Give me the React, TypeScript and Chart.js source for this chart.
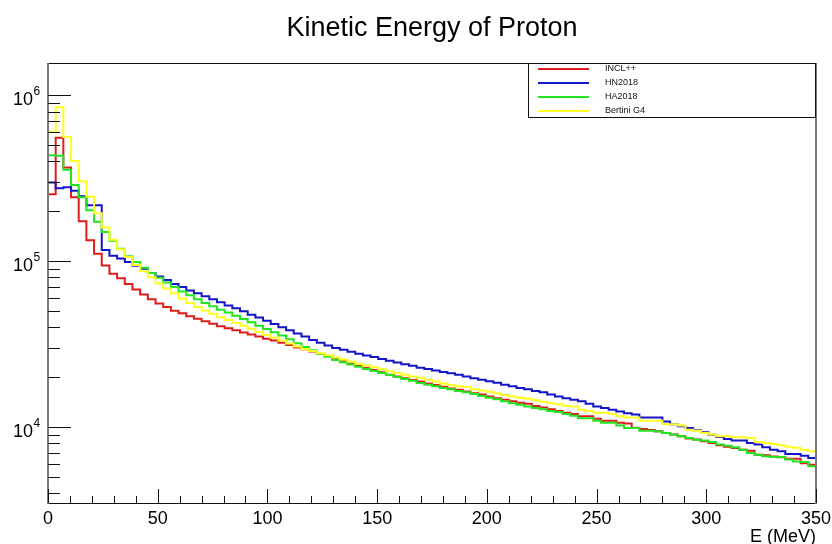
import React, { useEffect, useRef } from "react";
import { Chart, registerables } from "chart.js";

Chart.register(...registerables);

// ---------- chart text ----------
const TITLE = "Kinetic Energy of Proton";
const X_TITLE = "E (MeV)";

// ---------- axes ----------
const X_MIN = 0;
const X_MAX = 350;
const BIN_WIDTH = 3.5;
const Y_MIN = 3480;
const Y_MAX = 1570000;
const X_TICK_LABELS = [0, 50, 100, 150, 200, 250, 300, 350];
const X_MINOR_STEP = 10;
const Y_DECADE_EXPONENTS = [4, 5, 6];

// ---------- series ----------
const SERIES_NAMES = ["INCL++", "HN2018", "HA2018", "Bertini G4"];
const SERIES_COLORS = ["#dd1c1c", "#1414c8", "#22e622", "#ffff22"];

// counts per 3.5 MeV bin, 0..350 MeV
const INCL_VALUES = [
  254000, 555000, 368000, 243000, 174000, 134000, 111000, 94400, 84000, 79000,
  73000, 67500, 63000, 59000, 55600, 53000, 50200, 48500, 46500, 45000,
  43500, 42000, 40600, 39400, 38300, 37200, 36200, 35100, 34100, 33200,
  32200, 31200, 30200, 29400, 28500, 27600, 26800, 25700, 24900, 24100,
  23400, 22700, 22100, 21400, 20700, 20200, 19700, 19200, 18800, 18300,
  17900, 17500, 17100, 16800, 16400, 16000, 15700, 15300, 14900, 14600,
  14300, 14000, 13800, 13400, 13100, 12800, 12500, 12200, 12000, 11600,
  11600, 11200, 10900, 10900, 10600, 10500, 9900, 9720, 9600, 9420,
  9210, 9000, 8790, 8510, 8400, 8200, 8010, 7770, 7600, 7480,
  7300, 7200, 6800, 6750, 6650, 6560, 6430, 6430, 6050, 5910,
];

const HN2018_VALUES = [
  299000, 276000, 279000, 266000, 247000, 218000, 218000, 117000, 108000, 104000,
  99000, 94000, 90000, 85000, 81000, 77000, 73000, 70000, 66500, 64000,
  61500, 59000, 56500, 54000, 52000, 50000, 47500, 45800, 43800, 41800,
  40000, 38300, 36700, 35200, 33500, 32200, 31000, 30000, 29200, 28400,
  27700, 27000, 26400, 25700, 25100, 24500, 23900, 23400, 22800, 22400,
  21900, 21500, 21100, 20700, 20200, 19700, 19300, 18900, 18500, 18000,
  17600, 17200, 16900, 16500, 16200, 15700, 15300, 14900, 14600, 14300,
  13800, 13300, 13000, 12700, 12400, 12100, 11900, 11400, 11400, 11400,
  10800, 10400, 10100, 9860, 9550, 9290, 8990, 8710, 8470, 8280,
  8280, 8010, 7830, 7550, 7300, 7140, 6880, 6880, 6720, 6510,
];

const HA2018_VALUES = [
  436000, 433000, 356000, 288000, 243000, 203000, 173000, 150000, 133000, 119000,
  107000, 98900, 91500, 85000, 79500, 74500, 70000, 65600, 62400, 59000,
  56000, 53500, 51000, 49000, 46900, 44800, 42800, 40800, 39000, 37300,
  35600, 33800, 32000, 30400, 29000, 27600, 26500, 25400, 24600, 23800,
  23100, 22400, 21800, 21200, 20600, 20000, 19500, 19000, 18400, 18000,
  17600, 17200, 16900, 16500, 16200, 15800, 15400, 15000, 14700, 14300,
  13900, 13600, 13300, 13000, 12800, 12500, 12300, 12000, 11700, 11300,
  11300, 10900, 10600, 10600, 10200, 9860, 9860, 9500, 9500, 9400,
  9210, 8990, 8800, 8590, 8390, 8300, 8130, 7830, 7700, 7550,
  7300, 6980, 6800, 6660, 6600, 6600, 6360, 6200, 6140, 5800,
];

const BERTINI_VALUES = [
  605000, 850000, 562000, 403000, 304000, 245000, 195000, 160000, 135000, 118000,
  106000, 95000, 87000, 80000, 73500, 68500, 64000, 59500, 56000, 53000,
  50500, 48200, 46000, 44200, 42400, 40800, 39100, 37500, 36000, 34600,
  33200, 31900, 30600, 29600, 28700, 27900, 27100, 26300, 25500, 24800,
  24100, 23500, 22900, 22300, 21700, 21200, 20700, 20200, 19800, 19300,
  18800, 18300, 17900, 17600, 17500, 16900, 16600, 16300, 16000, 15600,
  15300, 15000, 14800, 14500, 14200, 13900, 13700, 13400, 13300, 12700,
  12500, 12200, 12200, 12000, 11600, 11400, 11400, 10900, 10900, 10900,
  10400, 10400, 10200, 9640, 9500, 9200, 9000, 8800, 8790, 8670,
  8670, 8590, 8130, 8010, 7900, 7770, 7600, 7500, 7300, 7140,
];

const SERIES_VALUES = [INCL_VALUES, HN2018_VALUES, HA2018_VALUES, BERTINI_VALUES];

const FONT = "'Liberation Sans', Arial, Helvetica, sans-serif";

// histogram outline: first point at the low edge of bin 0, then the high edge of every bin
function histPoints(values: number[]) {
  const pts = [{ x: X_MIN, y: values[0] }];
  values.forEach((v, i) => pts.push({ x: X_MIN + (i + 1) * BIN_WIDTH, y: v }));
  return pts;
}

const rootStylePlugin = {
  id: "rootStyle",
  afterDraw(chart: any) {
    const { ctx, chartArea: a } = chart;
    const xs = chart.scales.x;
    const ys = chart.scales.y;
    ctx.save();

    // frame
    ctx.lineWidth = 1;
    ctx.strokeStyle = "#111";
    ctx.beginPath();
    ctx.moveTo(a.left, a.top + 0.5);
    ctx.lineTo(a.right, a.top + 0.5);
    ctx.moveTo(a.left, a.bottom + 0.5);
    ctx.lineTo(a.right, a.bottom + 0.5);
    ctx.stroke();
    ctx.strokeStyle = "#7a7a7a";
    ctx.lineWidth = 2;
    ctx.beginPath();
    ctx.moveTo(a.left, a.top);
    ctx.lineTo(a.left, a.bottom + 1);
    ctx.moveTo(a.right, a.top);
    ctx.lineTo(a.right, a.bottom + 1);
    ctx.stroke();

    // x ticks (inside)
    ctx.strokeStyle = "#111";
    ctx.lineWidth = 1;
    ctx.beginPath();
    for (let v = X_MIN; v <= X_MAX; v += X_MINOR_STEP) {
      const px = Math.round(xs.getPixelForValue(v)) + 0.5;
      const major = X_TICK_LABELS.includes(v);
      const len = major ? 14 : 7;
      ctx.moveTo(px, a.bottom);
      ctx.lineTo(px, a.bottom - len);
    }
    ctx.stroke();

    // y ticks (inside)
    ctx.beginPath();
    for (let e = 3; e <= 6; e++) {
      for (let m = 1; m <= 9; m++) {
        const v = m * Math.pow(10, e);
        if (v < Y_MIN || v > Y_MAX) continue;
        const py = Math.round(ys.getPixelForValue(v)) + 0.5;
        const len = m === 1 ? 23 : 12;
        ctx.moveTo(a.left, py);
        ctx.lineTo(a.left + len, py);
      }
    }
    ctx.stroke();

    // x labels
    ctx.fillStyle = "#000";
    ctx.font = `18px ${FONT}`;
    ctx.textAlign = "center";
    ctx.textBaseline = "alphabetic";
    for (const v of X_TICK_LABELS) {
      ctx.fillText(String(v), xs.getPixelForValue(v), a.bottom + 21);
    }

    // y labels 10^n
    for (const e of Y_DECADE_EXPONENTS) {
      const py = ys.getPixelForValue(Math.pow(10, e));
      ctx.font = `18px ${FONT}`;
      ctx.textAlign = "right";
      ctx.fillText("10", 33, py + 9.5);
      ctx.font = `12px ${FONT}`;
      ctx.textAlign = "left";
      ctx.fillText(String(e), 33.5, py);
    }

    // x axis title
    ctx.font = `18px ${FONT}`;
    ctx.textAlign = "right";
    ctx.fillText(X_TITLE, a.right, a.bottom + 38.5);

    // title
    ctx.font = `27px ${FONT}`;
    ctx.textAlign = "center";
    ctx.fillText(TITLE, (a.left + a.right) / 2, 35.5);

    // legend
    const lx = 528;
    const ly = a.top;
    const lw = a.right - lx;
    const lh = 54;
    ctx.fillStyle = "#fff";
    ctx.fillRect(lx, ly, lw, lh);
    ctx.strokeStyle = "#111";
    ctx.lineWidth = 1;
    ctx.strokeRect(lx + 0.5, ly + 0.5, lw - 1, lh);
    const ds = chart.data.datasets;
    ctx.font = `9px ${FONT}`;
    ctx.textAlign = "left";
    ctx.textBaseline = "middle";
    ds.forEach((d: any, i: number) => {
      const ry = ly + 6 + i * 14;
      ctx.strokeStyle = d.borderColor;
      ctx.lineWidth = 2;
      ctx.beginPath();
      ctx.moveTo(538, ry);
      ctx.lineTo(589, ry);
      ctx.stroke();
      ctx.fillStyle = "#111";
      ctx.fillText(d.label, 605, ry);
    });

    ctx.restore();
  },
};

export default function App() {
  const canvasRef = useRef<HTMLCanvasElement | null>(null);

  useEffect(() => {
    const canvas = canvasRef.current;
    if (!canvas) return;
    const chart = new Chart(canvas, {
      type: "line",
      data: {
        datasets: SERIES_VALUES.map((vals, i) => ({
          label: SERIES_NAMES[i],
          data: histPoints(vals),
          borderColor: SERIES_COLORS[i],
          backgroundColor: SERIES_COLORS[i],
          borderWidth: 2,
          pointRadius: 0,
          fill: false,
          stepped: "after" as const,
          order: SERIES_VALUES.length - i,
          clip: 1,
        })),
      },
      options: {
        responsive: false,
        animation: false,
        events: [],
        layout: { padding: { left: 48, right: 16, top: 63, bottom: 41 } },
        plugins: {
          legend: { display: false },
          tooltip: { enabled: false },
          title: { display: false },
        },
        scales: {
          x: { type: "linear", min: X_MIN, max: X_MAX, display: false },
          y: { type: "logarithmic", min: Y_MIN, max: Y_MAX, display: false },
        },
      },
      plugins: [rootStylePlugin],
    });
    return () => chart.destroy();
  }, []);

  return (
    <div
      style={{
        position: "fixed",
        left: 0,
        top: 0,
        width: 832,
        height: 544,
        background: "#fff",
      }}
    >
      <canvas ref={canvasRef} width={832} height={544} style={{ display: "block" }} />
    </div>
  );
}
